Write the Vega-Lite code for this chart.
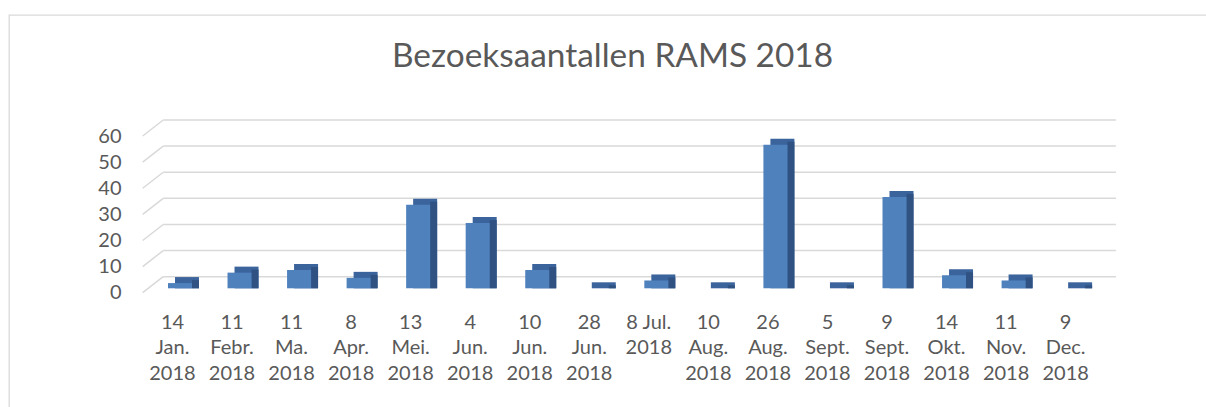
{
  "$schema": "https://vega.github.io/schema/vega-lite/v6.json",
  "width": 1200,
  "height": 395,
  "autosize": {"type": "none"},
  "padding": {"left": 9, "top": 15, "right": 0, "bottom": 0},
  "background": "#ffffff",
  "config": {
    "view": {"stroke": "#d9d9d9", "strokeWidth": 1.3},
    "font": "Lato"
  },
  "title": {
    "text": "Bezoeksaantallen RAMS 2018",
    "font": "Lato",
    "fontSize": 33.4,
    "fontWeight": "normal",
    "color": "#595959",
    "anchor": "middle",
    "frame": "group",
    "baseline": "alphabetic",
    "offset": -85,
    "dx": 3.5
  },
  "data": {
    "values": [
      {"date": "14 Jan. 2018", "bezoekers": 2},
      {"date": "11 Febr. 2018", "bezoekers": 6},
      {"date": "11 Ma. 2018", "bezoekers": 7},
      {"date": "8 Apr. 2018", "bezoekers": 4},
      {"date": "13 Mei. 2018", "bezoekers": 32},
      {"date": "4 Jun. 2018", "bezoekers": 25},
      {"date": "10 Jun. 2018", "bezoekers": 7},
      {"date": "28 Jun. 2018", "bezoekers": 0},
      {"date": "8 Jul. 2018", "bezoekers": 3},
      {"date": "10 Aug. 2018", "bezoekers": 0},
      {"date": "26 Aug. 2018", "bezoekers": 55},
      {"date": "5 Sept. 2018", "bezoekers": 0},
      {"date": "9 Sept. 2018", "bezoekers": 35},
      {"date": "14 Okt. 2018", "bezoekers": 5},
      {"date": "11 Nov. 2018", "bezoekers": 3},
      {"date": "9 Dec. 2018", "bezoekers": 0}
    ]
  },
  "encoding": {
    "x": {
      "field": "date",
      "type": "nominal",
      "sort": null,
      "scale": {
        "type": "band",
        "domain": ["14 Jan. 2018", "11 Febr. 2018", "11 Ma. 2018", "8 Apr. 2018", "13 Mei. 2018", "4 Jun. 2018", "10 Jun. 2018", "28 Jun. 2018", "8 Jul. 2018", "10 Aug. 2018", "26 Aug. 2018", "5 Sept. 2018", "9 Sept. 2018", "14 Okt. 2018", "11 Nov. 2018", "9 Dec. 2018"],
        "range": [133.7, 1086.4],
        "paddingInner": 0,
        "paddingOuter": 0
      },
      "axis": {
        "title": null,
        "domain": false,
        "ticks": false,
        "grid": false,
        "labelAngle": 0,
        "labelFont": "Lato",
        "labelFontSize": 20,
        "labelColor": "#595959",
        "labelLineHeight": 25.5,
        "labelPadding": 0,
        "labelOverlap": false,
        "labelLimit": 0,
        "labelBound": false,
        "offset": -98,
        "labelExpr": "datum.value == '8 Jul. 2018' ? ['8 Jul.', '2018'] : split(datum.value, ' ')"
      }
    }
  },
  "layer": [
    {
      "data": {"values": [{"level": 0}, {"level": 10}, {"level": 20}, {"level": 30}, {"level": 40}, {"level": 50}, {"level": 60}]},
      "mark": {"type": "rule", "color": "#d9d9d9", "strokeWidth": 1.5, "xOffset": 20.5, "x2Offset": 20.5},
      "encoding": {
        "x": {"datum": "14 Jan. 2018", "bandPosition": 0},
        "x2": {"datum": "9 Dec. 2018", "bandPosition": 1},
        "y": {
          "field": "level",
          "type": "quantitative",
          "scale": {"domain": [0, 60], "range": [261.7, 105], "nice": false, "zero": false},
          "axis": {
            "title": null,
            "values": [0, 10, 20, 30, 40, 50, 60],
            "domain": false,
            "ticks": false,
            "grid": false,
            "labelFont": "Lato",
            "labelFontSize": 20,
            "labelColor": "#595959",
            "labelPadding": 0,
            "labelOffset": 16,
            "offset": -112
          }
        }
      }
    },
    {
      "data": {"values": [{"level": 0}, {"level": 10}, {"level": 20}, {"level": 30}, {"level": 40}, {"level": 50}, {"level": 60}]},
      "mark": {"type": "rule", "color": "#d9d9d9", "strokeWidth": 1.5, "x2Offset": 20.5, "yOffset": 16},
      "encoding": {
        "x": {"datum": "14 Jan. 2018", "bandPosition": 0},
        "x2": {"datum": "14 Jan. 2018", "bandPosition": 0},
        "y": {"field": "level", "type": "quantitative"},
        "y2": {"field": "level"}
      }
    },
    {
      "mark": {"type": "bar", "color": "#3b639c", "width": 24, "xOffset": 14.5, "yOffset": 5.6, "y2Offset": 11.6},
      "encoding": {
        "y": {"field": "bezoekers", "type": "quantitative"},
        "y2": {"datum": 0}
      }
    },
    {
      "mark": {"type": "bar", "color": "#2f5282", "width": 7, "xOffset": 23, "yOffset": 8.6, "y2Offset": 11.6},
      "encoding": {
        "y": {"field": "bezoekers", "type": "quantitative"},
        "y2": {"datum": 0}
      }
    },
    {
      "mark": {"type": "bar", "color": "#4f81bd", "width": 24, "xOffset": 7.5, "yOffset": 11.6, "y2Offset": 11.6},
      "encoding": {
        "y": {"field": "bezoekers", "type": "quantitative"},
        "y2": {"datum": 0}
      }
    }
  ]
}
